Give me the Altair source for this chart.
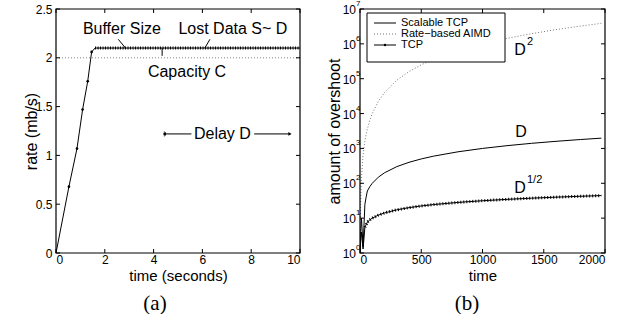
import altair as alt
import pandas as pd

FONT = "Liberation Sans"
SERIF = "Liberation Serif"

# ---------------- panel (a) data ----------------
a_time = [0.0, 0.53, 0.86, 1.09, 1.30, 1.46, 1.60, 10.0]
a_rate = [0.0, 0.68, 1.07, 1.47, 1.76, 2.06, 2.10, 2.10]
a_marker_time = [0.53, 0.86, 1.09, 1.30, 1.46]
a_marker_rate = [0.68, 1.07, 1.47, 1.76, 2.06]
a_flat_time = [1.60, 10.0]
a_flat_rate = [2.10, 2.10]
a_capacity = [2.0]
a_xticks = [0, 2, 4, 6, 8, 10]
a_yticks = [0, 0.5, 1, 1.5, 2, 2.5]
a_labels = ["Buffer Size", "Lost Data S~ D", "Capacity C", "Delay D"]
a_label_x = [2.7, 7.25, 5.37, 6.82]
a_label_y = [2.3, 2.3, 1.85, 1.22]
a_lead_x = [2.55, 6.31, 4.35]
a_lead_y = [2.19, 2.19, 2.02]
a_lead_x2 = [2.85, 6.10, 4.35]
a_lead_y2 = [2.10, 2.10, 2.10]
a_delay_x = [4.44, 8.12]
a_delay_x2 = [5.55, 9.59]
a_delay_y = [1.22, 1.22]

# ---------------- panel (b) data ----------------
b_time = [0, 5, 12, 25, 40, 50, 60, 80, 100, 150, 200, 300, 400, 500, 600,
          800, 1000, 1200, 1400, 1600, 1800, 1970]
b_scalable = [1, 4, 10, 1.5, 25, 40, 60, 80, 100, 150, 200, 300, 400, 500, 600,
              800, 1000, 1200, 1400, 1600, 1800, 1970]
b_aimd = [1, 25, 144, 625, 1600, 2500, 3600, 6400, 1.0e4, 2.25e4, 4.0e4, 9.0e4,
          1.6e5, 2.5e5, 3.6e5, 6.4e5, 1.0e6, 1.44e6, 1.96e6, 2.56e6, 3.24e6, 3.88e6]
b_tcp = [1, 2, 4, 1.3, 5.5, 6.5, 7.7, 8.9, 10, 12.2, 14.1, 17.3, 20, 22.4, 24.5,
         28.3, 31.6, 34.6, 37.4, 40, 42.4, 44.4]
b_series = ["Scalable TCP", "Rate\u2212based AIMD", "TCP"]
b_xticks = [0, 500, 1000, 1500, 2000]
b_yticks = [1, 10, 100, 1000, 1e4, 1e5, 1e6, 1e7]
b_yexp = ["0", "1", "2", "3", "4", "5", "6", "7"]
b_ann_base = ["D", "D", "D"]
b_ann_sup = ["2", "", "1/2"]
b_ann_x = [1306, 1314, 1306]
b_ann_y = [6.6e5, 2880, 74]

W, H = 244, 244
PLAIN = "datum.value + ''"

# ================= panel (a) =================
xs_a = alt.Scale(domain=[0, 10], nice=False, zero=False)
ys_a = alt.Scale(domain=[0, 2.5], nice=False, zero=False)
xaxis_a = alt.Axis(values=a_xticks, labelExpr=PLAIN, title="time (seconds)", titleY=22,
                   titleX=W / 2, titleBaseline="middle", titleAlign="center", labelPadding=1)
yaxis_a = alt.Axis(values=a_yticks, labelExpr=PLAIN, title="rate (mb/s)", titleX=-25,
                   titleY=H / 2, titleAngle=270, titleAlign="center",
                   titleBaseline="middle", titleFontSize=16, labelPadding=4)


def XA(f):
    return alt.X(f"{f}:Q", scale=xs_a, axis=xaxis_a)


def YA(f):
    return alt.Y(f"{f}:Q", scale=ys_a, axis=yaxis_a)


df_a = pd.DataFrame({"t": a_time, "r": a_rate})
line_a = alt.Chart(df_a).mark_line(color="black", strokeWidth=1).encode(x=XA("t"), y=YA("r"))
pts_a = alt.Chart(pd.DataFrame({"t": a_marker_time, "r": a_marker_rate})).mark_point(
    filled=True, color="black", size=7, opacity=1).encode(x=XA("t"), y=YA("r"))
flat_a = alt.Chart(pd.DataFrame({"t": a_flat_time, "r": a_flat_rate})).mark_line(
    color="black", strokeWidth=3, strokeDash=[1, 1.5]).encode(x=XA("t"), y=YA("r"))
cap_a = alt.Chart(pd.DataFrame({"r": a_capacity})).mark_rule(
    color="#888888", strokeWidth=1, strokeDash=[1, 2]).encode(y=YA("r"))
lead_a = alt.Chart(pd.DataFrame({"t": a_lead_x, "r": a_lead_y, "x2": a_lead_x2, "y2": a_lead_y2})).mark_rule(
    color="black", strokeWidth=1).encode(x=XA("t"), y=YA("r"), x2="x2:Q", y2="y2:Q")
delay_a = alt.Chart(pd.DataFrame({"t": a_delay_x, "x2": a_delay_x2, "r": a_delay_y})).mark_rule(
    color="black", strokeWidth=1).encode(x=XA("t"), x2="x2:Q", y=YA("r"))
df_heads = pd.DataFrame({"t": [a_delay_x[0], a_delay_x2[1]], "r": a_delay_y,
                         "s": ["triangle-left", "triangle-right"]})
heads_a = alt.Chart(df_heads).mark_point(filled=True, color="black", size=14, opacity=1).encode(
    x=XA("t"), y=YA("r"), shape=alt.Shape("s:N", scale=None))
bar_a = alt.Chart(pd.DataFrame({"t": [a_delay_x[0]], "r": [a_delay_y[0]]})).mark_tick(
    color="black", thickness=1, size=5, orient="vertical").encode(x=XA("t"), y=YA("r"))
text_a = alt.Chart(pd.DataFrame({"t": a_label_x, "r": a_label_y, "txt": a_labels})).mark_text(
    font=FONT, fontSize=16, color="black", align="center", baseline="middle").encode(
    x=XA("t"), y=YA("r"), text="txt:N")
df_xt_a = pd.DataFrame({"t": a_xticks})
df_yt_a = pd.DataFrame({"r": a_yticks})
tk_a = [
    alt.Chart(df_xt_a).mark_rule(color="black").encode(
        x=XA("t"), y=alt.value(H), y2=alt.value(H - 4)),
    alt.Chart(df_xt_a).mark_rule(color="black").encode(
        x=XA("t"), y=alt.value(0), y2=alt.value(4)),
    alt.Chart(df_yt_a).mark_rule(color="black").encode(
        y=YA("r"), x=alt.value(0), x2=alt.value(4)),
    alt.Chart(df_yt_a).mark_rule(color="black").encode(
        y=YA("r"), x=alt.value(W), x2=alt.value(W - 4)),
]
frame_a = alt.Chart(pd.DataFrame({"k": [0]})).mark_rect(
    fill=None, stroke="black", strokeWidth=1.2).encode(
    x=alt.value(0), x2=alt.value(W), y=alt.value(0), y2=alt.value(H))
cap_txt_a = alt.Chart(pd.DataFrame({"c": ["(a)"]})).mark_text(
    font=SERIF, fontSize=21, color="black", align="center", baseline="middle").encode(
    x=alt.value(99), y=alt.value(295), text="c:N")

panel_a = alt.layer(cap_a, line_a, pts_a, flat_a, lead_a, delay_a, heads_a, bar_a,
                    text_a, *tk_a, frame_a, cap_txt_a).properties(width=W, height=H)

# ================= panel (b) =================
WB = W + 1
xs_b = alt.Scale(domain=[0, 2000], nice=False, zero=False)
ys_b = alt.Scale(type="log", domain=[1, 1e7], nice=False)
xaxis_b = alt.Axis(values=b_xticks, labelExpr=PLAIN, title="time", titleY=22, titleX=WB / 2,
                   titleBaseline="middle", titleAlign="center", labelPadding=1)
yaxis_b = alt.Axis(values=b_yticks, labels=False, title="amount of overshoot",
                   titleX=-26, titleY=H / 2, titleAngle=270, titleAlign="center",
                   titleBaseline="middle", titleFontSize=16)


def XB(f):
    return alt.X(f"{f}:Q", scale=xs_b, axis=xaxis_b)


def YB(f):
    return alt.Y(f"{f}:Q", scale=ys_b, axis=yaxis_b)


df_b = pd.DataFrame({"t": b_time, "s": b_scalable, "a": b_aimd, "p": b_tcp})
scal_b = alt.Chart(df_b).mark_line(color="black", strokeWidth=1, clip=True).encode(
    x=XB("t"), y=YB("s"))
aimd_b = alt.Chart(df_b).mark_line(color="#777777", strokeWidth=1, strokeDash=[1, 2],
                                   clip=True).encode(x=XB("t"), y=YB("a"))
tcp_b = alt.Chart(df_b).mark_line(color="black", strokeWidth=1, clip=True).encode(
    x=XB("t"), y=YB("p"))
tcpm_b = alt.Chart(df_b).transform_filter("datum.t >= 40").mark_line(
    color="black", strokeWidth=3, strokeDash=[1, 2], clip=True).encode(x=XB("t"), y=YB("p"))

df_ann = pd.DataFrame({"t": b_ann_x, "s": b_ann_y, "b": b_ann_base, "sp": b_ann_sup})
ann_b = alt.Chart(df_ann).mark_text(font=FONT, fontSize=16, color="black",
                                    align="center", baseline="middle").encode(
    x=XB("t"), y=YB("s"), text="b:N")
sup_b = alt.Chart(df_ann).mark_text(font=FONT, fontSize=11, color="black",
                                    align="left", baseline="middle", dx=7, dy=-8).encode(
    x=XB("t"), y=YB("s"), text="sp:N")

df_yl = pd.DataFrame({"s": b_yticks, "e": b_yexp, "ten": ["10"] * len(b_yticks)})
ylab_b = alt.Chart(df_yl).mark_text(font=FONT, fontSize=12, color="black",
                                    align="right", baseline="middle", dy=1).encode(
    x=alt.value(-4), y=YB("s"), text="ten:N")
yexp_b = alt.Chart(df_yl).mark_text(font=FONT, fontSize=8, color="black",
                                    align="left", baseline="middle", dy=-5).encode(
    x=alt.value(-4), y=YB("s"), text="e:N")

df_xt_b = pd.DataFrame({"t": b_xticks})
tk_b = [
    alt.Chart(df_xt_b).mark_rule(color="black").encode(
        x=XB("t"), y=alt.value(H), y2=alt.value(H - 4)),
    alt.Chart(df_xt_b).mark_rule(color="black").encode(
        x=XB("t"), y=alt.value(0), y2=alt.value(4)),
    alt.Chart(df_yl).mark_rule(color="black").encode(
        y=YB("s"), x=alt.value(0), x2=alt.value(4)),
    alt.Chart(df_yl).mark_rule(color="black").encode(
        y=YB("s"), x=alt.value(WB), x2=alt.value(WB - 4)),
]
frame_b = alt.Chart(pd.DataFrame({"k": [0]})).mark_rect(
    fill=None, stroke="black", strokeWidth=1.2).encode(
    x=alt.value(0), x2=alt.value(WB), y=alt.value(0), y2=alt.value(H))

# legend (drawn by hand)
leg_box = alt.Chart(pd.DataFrame({"k": [0]})).mark_rect(
    fill="white", stroke="black", strokeWidth=1).encode(
    x=alt.value(7), x2=alt.value(145), y=alt.value(4), y2=alt.value(53))
leg_layers = [leg_box]
row_y = [14, 25, 36]
styles = [dict(color="black"), dict(color="#777777", strokeDash=[1, 2]), dict(color="black")]
for i, name in enumerate(b_series):
    d = pd.DataFrame({"n": [name]})
    leg_layers.append(alt.Chart(d).mark_rule(strokeWidth=1, **styles[i]).encode(
        x=alt.value(14), x2=alt.value(36), y=alt.value(row_y[i])))
    leg_layers.append(alt.Chart(d).mark_text(font=FONT, fontSize=11, color="black",
                                             align="left", baseline="middle").encode(
        x=alt.value(41), y=alt.value(row_y[i]), text="n:N"))
leg_layers.append(alt.Chart(pd.DataFrame({"n": [b_series[2]]})).mark_point(
    filled=True, color="black", size=6, opacity=1).encode(
    x=alt.value(25), y=alt.value(row_y[2])))

cap_txt_b = alt.Chart(pd.DataFrame({"c": ["(b)"]})).mark_text(
    font=SERIF, fontSize=21, color="black", align="center", baseline="middle").encode(
    x=alt.value(107), y=alt.value(295), text="c:N")

panel_b = alt.layer(scal_b, aimd_b, tcp_b, tcpm_b, ann_b, sup_b, ylab_b, yexp_b,
                    *tk_b, frame_b, *leg_layers, cap_txt_b).properties(width=WB, height=H)

chart = alt.hconcat(panel_a, panel_b, spacing=19).properties(
    padding={"left": 23, "top": 0, "right": 0, "bottom": 0}
).configure_view(stroke=None).configure_axis(
    grid=False, domain=False, ticks=False, labelFont=FONT, labelFontSize=12,
    labelColor="black", titleFont=FONT, titleFontSize=15, titleFontWeight="normal",
    titleColor="black"
)

chart.save("out.html", embed_options={"renderer": "svg", "actions": False})
